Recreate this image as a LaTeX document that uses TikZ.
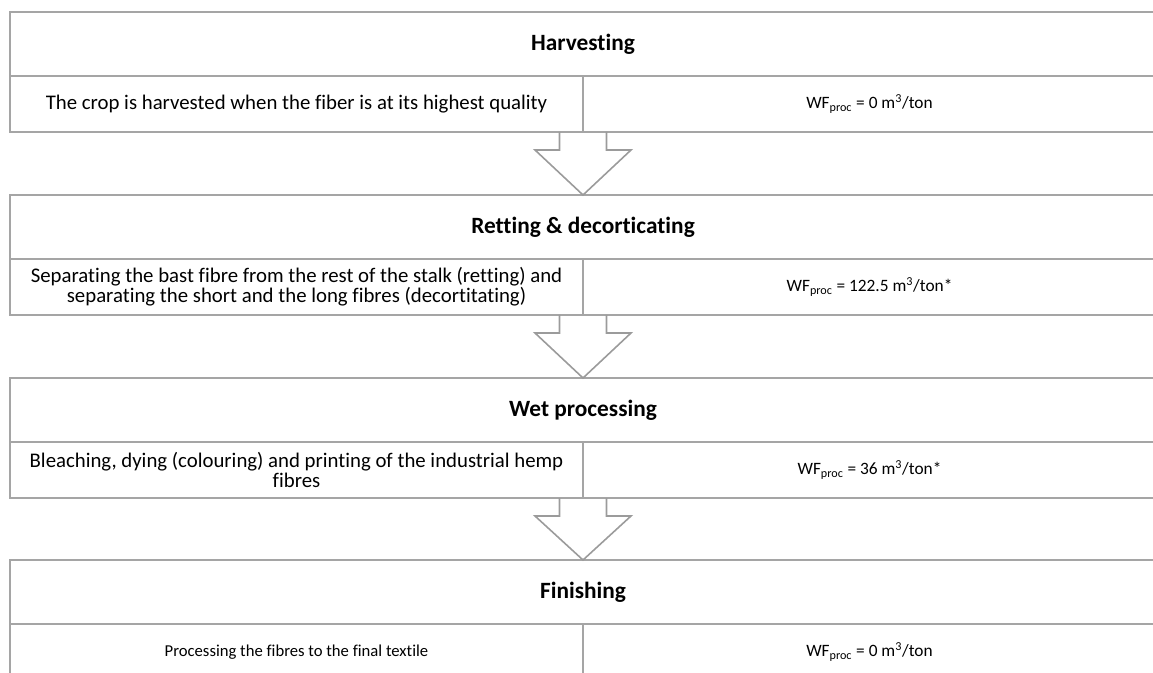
\documentclass[tikz,border=0pt]{standalone}
\usepackage{fontspec}
\setmainfont{Carlito}[Ligatures={NoCommon}]
\usepackage{tikz}
\usetikzlibrary{positioning,calc}
\definecolor{tablegray}{RGB}{165,165,165}
\definecolor{arrowgray}{RGB}{155,155,155}

\tikzset{
  stagehead/.style={draw=tablegray,line width=1.2pt,minimum width=859.5pt,minimum height=48pt,
    inner sep=0pt,outer sep=0pt,font=\fontsize{17.5}{20}\selectfont\bfseries},
  cell/.style={draw=tablegray,line width=1.2pt,minimum width=429.75pt,minimum height=42pt,
    inner sep=0pt,outer sep=0pt,align=center,font=\fontsize{15.6}{14.8}\selectfont},
  wfcell/.style={cell,font=\fontsize{13}{15}\selectfont},
  smallcell/.style={cell,font=\fontsize{12.5}{15}\selectfont},
  arrowline/.style={draw=arrowgray,line width=1.2pt,line join=miter}
}

% hollow block arrow from the bottom of one stage to the top of the next
\newcommand{\flowarrow}[2]{%
  \draw[arrowline] ($(#1)+(-23.5,0)$) -- ($(#1)+(-23.5,18)$) -- ($(#1)+(-48,18)$)
    -- (#2) -- ($(#1)+(48,18)$) -- ($(#1)+(23.5,18)$) -- ($(#1)+(23.5,0)$);}

\begin{document}
\begin{tikzpicture}[x=0.75pt,y=-0.75pt]
    \useasboundingbox (0,0) rectangle (1153,673);

    % Harvesting
    \node[stagehead] (head1) at (583,44) {Harvesting};
    \node[cell,anchor=north east] (desc1) at (head1.south) {The crop is harvested when the fiber is at its highest quality};
    \node[wfcell,anchor=north west] (wf1) at (head1.south) {WF\textsubscript{proc} = 0 m\textsuperscript{3}/ton};

    % Retting & decorticating
    \node[stagehead] (head2) at (583,227) {Retting \& decorticating};
    \node[cell,anchor=north east] (desc2) at (head2.south) {Separating the bast fibre from the rest of the stalk (retting) and\\separating the short and the long fibres (decortitating)};
    \node[wfcell,anchor=north west] (wf2) at (head2.south) {WF\textsubscript{proc} = 122.5 m\textsuperscript{3}/ton*};

    % Wet processing
    \node[stagehead] (head3) at (583,410) {Wet processing};
    \node[cell,anchor=north east] (desc3) at (head3.south) {Bleaching, dying (colouring) and printing of the industrial hemp\\fibres};
    \node[wfcell,anchor=north west] (wf3) at (head3.south) {WF\textsubscript{proc} = 36 m\textsuperscript{3}/ton*};

    % Finishing
    \node[stagehead] (head4) at (583,592) {Finishing};
    \node[smallcell,anchor=north east] (desc4) at (head4.south) {Processing the fibres to the final textile};
    \node[wfcell,anchor=north west] (wf4) at (head4.south) {WF\textsubscript{proc} = 0 m\textsuperscript{3}/ton};

    % arrows between the stages
    \flowarrow{desc1.south east}{head2.north}
    \flowarrow{desc2.south east}{head3.north}
    \flowarrow{desc3.south east}{head4.north}
\end{tikzpicture}
\end{document}
